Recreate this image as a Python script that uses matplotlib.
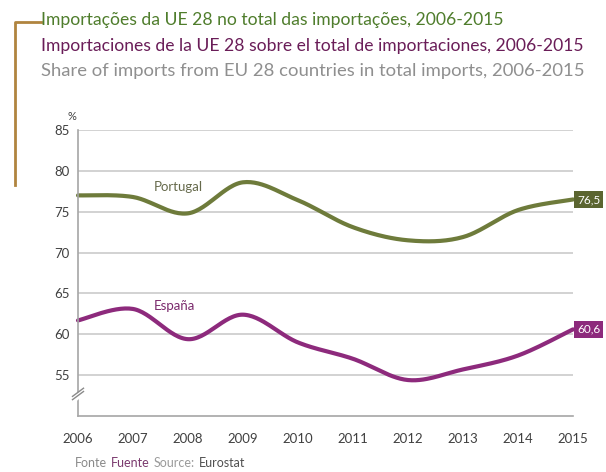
import numpy as np
import matplotlib.pyplot as plt
from matplotlib.lines import Line2D

plt.rcParams['font.family'] = ['Lato', 'DejaVu Sans']

years = [2006, 2007, 2008, 2009, 2010, 2011, 2012, 2013, 2014, 2015]
portugal = [77.0, 76.8, 74.8, 78.6, 76.4, 73.1, 71.5, 71.9, 75.2, 76.5]
espana = [61.7, 63.1, 59.4, 62.4, 59.0, 57.0, 54.4, 55.7, 57.4, 60.6]

titles = [
    'Importações da UE 28 no total das importações, 2006-2015',
    'Importaciones de la UE 28 sobre el total de importaciones, 2006-2015',
    'Share of imports from EU 28 countries in total imports, 2006-2015',
]

GREEN = '#6e7b3b'
GREEN_BOX = '#5b6530'
PURPLE = '#8d2a7c'
GRID = '#cfcfcf'
TEXT = '#404040'


def smooth(x, y, n=30):
    # Catmull-Rom style smoothing, like a spreadsheet "smoothed line"
    x = np.asarray(x, float)
    y = np.asarray(y, float)
    px = np.concatenate([[x[0]], x, [x[-1]]])
    py = np.concatenate([[y[0]], y, [y[-1]]])
    xs, ys = [], []
    t = np.linspace(0, 1, n)
    for i in range(1, len(px) - 2):
        p0 = np.array([px[i], py[i]])
        p3 = np.array([px[i + 1], py[i + 1]])
        c1 = p0 + (np.array([px[i + 1], py[i + 1]]) - np.array([px[i - 1], py[i - 1]])) / 6
        c2 = p3 - (np.array([px[i + 2], py[i + 2]]) - np.array([px[i], py[i]])) / 6
        b = ((1 - t) ** 3)[:, None] * p0 + (3 * (1 - t) ** 2 * t)[:, None] * c1 \
            + (3 * (1 - t) * t ** 2)[:, None] * c2 + (t ** 3)[:, None] * p3
        xs.extend(b[:, 0])
        ys.extend(b[:, 1])
    return np.array(xs), np.array(ys)


fig = plt.figure(figsize=(6.06, 4.72), dpi=100)
ax = fig.add_axes([78 / 606, 56 / 472, 495 / 606, 286 / 472])

ax.set_xlim(2006, 2015)
ax.set_ylim(50, 85)
ax.set_yticks([55, 60, 65, 70, 75, 80, 85])
ax.set_xticks(years)
ax.grid(axis='y', color=GRID, lw=1.3)
ax.set_axisbelow(True)
for s in ['top', 'right']:
    ax.spines[s].set_visible(False)
ax.spines['left'].set_color('#a6a6a6')
ax.spines['bottom'].set_color('#a6a6a6')
ax.spines['left'].set_linewidth(1.2)
ax.spines['bottom'].set_linewidth(1.2)
ax.tick_params(length=0, labelsize=9.5, colors=TEXT, pad=6)
ax.tick_params(axis='x', pad=12)

sx, sy = smooth(years, portugal)
ax.plot(sx, sy, color=GREEN, lw=3, solid_capstyle='round', clip_on=False)
sx, sy = smooth(years, espana)
ax.plot(sx, sy, color=PURPLE, lw=3, solid_capstyle='round', clip_on=False)

ax.text(2007.82, 78.0, 'Portugal', color='#666a4c', fontsize=9.5, ha='center', va='center')
ax.text(2007.76, 63.5, 'España', color='#7b2a6c', fontsize=9.5, ha='center', va='center')

ax.annotate(f'{portugal[-1]:.1f}'.replace('.', ','), (years[-1], portugal[-1]),
            xytext=(3, 0), textcoords='offset points', ha='left', va='center',
            color='white', fontsize=8.5,
            bbox=dict(boxstyle='square,pad=0.25', fc=GREEN_BOX, ec='none'))
ax.annotate(f'{espana[-1]:.1f}'.replace('.', ','), (years[-1], espana[-1]),
            xytext=(3, 0), textcoords='offset points', ha='left', va='center',
            color='white', fontsize=8.5,
            bbox=dict(boxstyle='square,pad=0.25', fc=PURPLE, ec='none'))

# axis break marks on the y axis
ax.plot([2005.98, 2006.22], [52.3, 53.6], color='white', lw=4, clip_on=False, zorder=5)
ax.plot([2005.9, 2006.1], [52.4, 53.4], color='#8a8a8a', lw=1, clip_on=False, zorder=6)
ax.plot([2005.9, 2006.1], [52.0, 53.0], color='#8a8a8a', lw=1, clip_on=False, zorder=6)

fig.text(72 / 606, 1 - 117 / 472, '%', color=TEXT, fontsize=8, ha='center', va='center')

# titles with the bracket on the left
fig.text(41 / 606, 1 - 20 / 472, titles[0], color='#4f7d2c', fontsize=12.6, va='center')
fig.text(41 / 606, 1 - 46 / 472, titles[1], color='#6a1d58', fontsize=12.6, va='center')
fig.text(41 / 606, 1 - 71 / 472, titles[2], color='#8f8f8f', fontsize=13.3, va='center')
fig.add_artist(Line2D([15 / 606, 15 / 606, 41 / 606], [1 - 185 / 472, 1 - 22 / 472, 1 - 22 / 472],
                      color='#b0843f', lw=2))

# source line
src_y = 1 - 463 / 472
r = fig.canvas.get_renderer()
x = 75 / 606
for word, col in [('Fonte', '#8a8a8a'), ('Fuente', '#7b3a6e'), ('Source:', '#9a9a9a'), ('Eurostat', '#505050')]:
    t = fig.text(x, src_y, word, color=col, fontsize=9, va='center')
    bb = t.get_window_extent(r)
    x = bb.x1 / 606 + 4 / 606

fig.savefig('out.png', dpi=100, facecolor='white')
